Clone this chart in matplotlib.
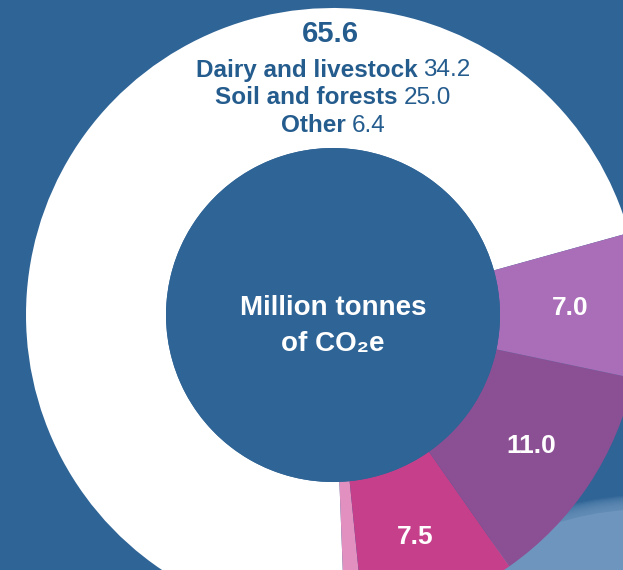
import numpy as np
import matplotlib.pyplot as plt
from matplotlib.patches import Ellipse

plt.rcParams['font.family'] = ['Liberation Sans Narrow', 'Liberation Sans', 'DejaVu Sans']

# sectors, million tonnes of CO2e
sectors = ['Agriculture', 'Waste', 'Industry', 'Energy', 'Transport']
values = [65.6, 0.9, 7.5, 11.0, 7.0]
colors = ['#ffffff', '#e290c0', '#c63f8b', '#8b4f94', '#a96eb7']
shown = ['', '', '7.5', '11.0', '7.0']

total_label = '65.6'
breakdown_names = ['Dairy and livestock', 'Soil and forests', 'Other']
breakdown_values = [34.2, 25.0, 6.4]

BG = '#2f6496'
INK = '#255c8e'

W, H = 623, 570
fig = plt.figure(figsize=(W / 100, H / 100), dpi=100, facecolor=BG)
ax = fig.add_axes([0, 0, 1, 1])
ax.set_xlim(0, W)
ax.set_ylim(0, H)
ax.set_aspect('equal')
ax.axis('off')

# soft pale blob in the lower right corner, faded edge from stacked layers
n_layers = 14
for k in range(n_layers):
    grow = (n_layers - 1 - k) * 2.2
    ax.add_patch(Ellipse((650, -72), 416 + grow, 266 + grow,
                         color='#6d95bd', alpha=0.14, lw=0, zorder=0))
ax.add_patch(Ellipse((650, -72), 416, 266, color='#6d95bd', lw=0, zorder=0))

cx, cy = 333, H - 315
r_out, r_in = 307, 167
wedges, _ = ax.pie(values, colors=colors, startangle=15.5, counterclock=True,
                   radius=r_out, center=(cx, cy),
                   wedgeprops=dict(width=r_out - r_in, linewidth=0))
ax.set_xlim(0, W)
ax.set_ylim(0, H)
ax.add_patch(plt.Circle((cx, cy), r_in, color=BG, lw=0, zorder=3))

r_mid = (r_out + r_in) / 2
for w, lab in zip(wedges, shown):
    if not lab:
        continue
    ang = np.deg2rad((w.theta1 + w.theta2) / 2)
    ax.text(cx + r_mid * np.cos(ang), cy + r_mid * np.sin(ang), lab,
            ha='center', va='center', color='white', fontsize=19,
            fontweight='bold', zorder=4)

ax.text(cx, H - 326, 'Million tonnes\nof CO\u2082e', ha='center', va='center',
        color='white', fontsize=20, fontweight='bold', linespacing=1.5, zorder=4)

ax.text(cx - 3, H - 34, total_label, ha='center', va='center', color=INK,
        fontsize=21, fontweight='bold', zorder=4)

# bold name + plain number, centred as one line
renderer = fig.canvas.get_renderer()
inv = ax.transData.inverted()
for i, (name, val) in enumerate(zip(breakdown_names, breakdown_values)):
    y = H - 70 - i * 28
    t1 = ax.text(0, y, name, ha='left', va='center', color=INK,
                 fontsize=17.5, fontweight='bold', zorder=4)
    t2 = ax.text(0, y, f'{val:.1f}', ha='left', va='center', color=INK,
                 fontsize=17.5, zorder=4)
    e1 = t1.get_window_extent(renderer)
    e2 = t2.get_window_extent(renderer)
    w1 = inv.transform((e1.x1, 0))[0] - inv.transform((e1.x0, 0))[0]
    w2 = inv.transform((e2.x1, 0))[0] - inv.transform((e2.x0, 0))[0]
    gap = 6
    x0 = cx - (w1 + gap + w2) / 2
    t1.set_x(x0)
    t2.set_x(x0 + w1 + gap)

fig.savefig('out.png', dpi=100, facecolor=BG)
